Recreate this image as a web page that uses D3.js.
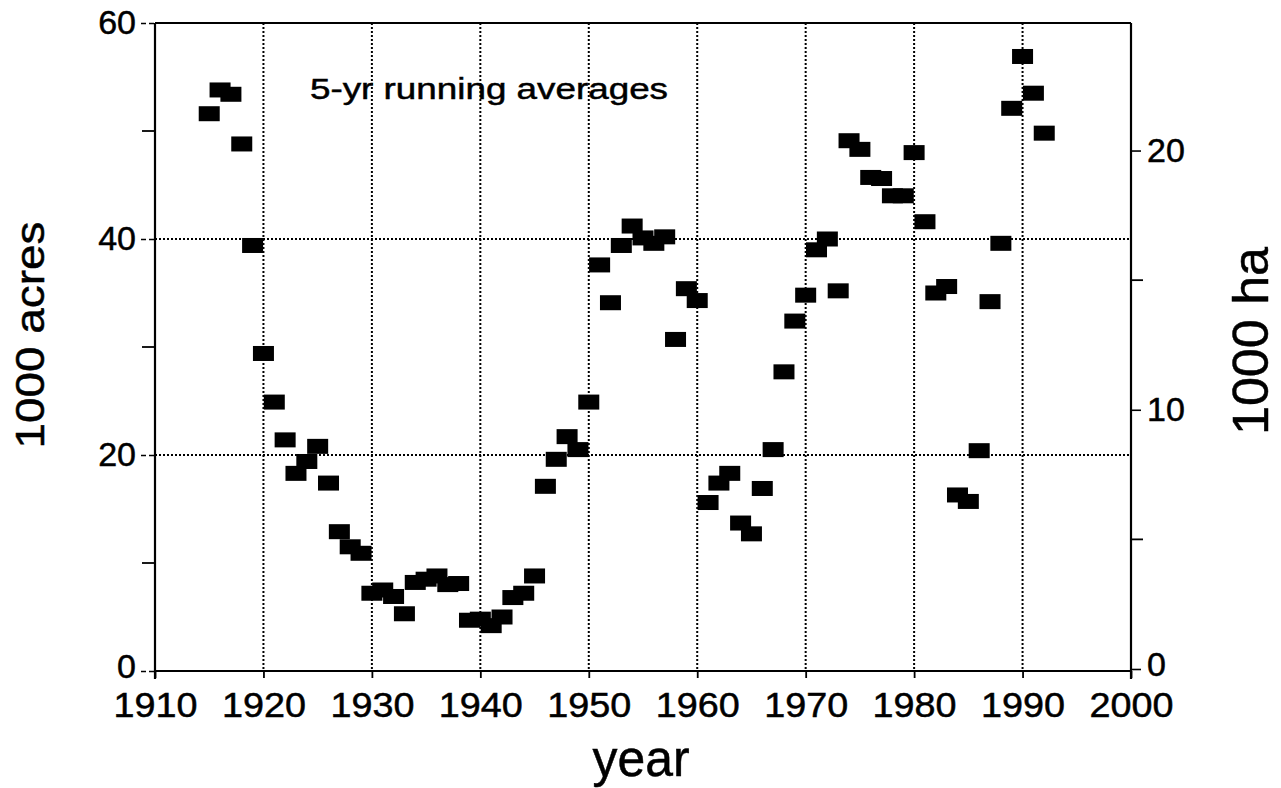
<!DOCTYPE html>
<html><head><meta charset="utf-8">
<script src="https://cdn.jsdelivr.net/npm/d3@7"></script>
<style>
html,body{margin:0;padding:0;background:#fff;}
svg{display:block;font-family:"Liberation Sans",Arial,Helvetica,sans-serif;}
svg text{stroke:#000;stroke-width:0.5px;}
</style></head>
<body>
<svg id="chart" width="1281" height="788"></svg>
<script>
// ---- data ----
const years = [1915,1916,1917,1918,1919,1920,1921,1922,1923,1924,1925,1926,1927,1928,1929,
  1930,1931,1932,1933,1934,1935,1936,1937,1938,1939,1940,1941,1942,1943,1944,1945,1946,1947,1948,1949,
  1950,1951,1952,1953,1954,1955,1956,1957,1958,1959,1960,1961,1962,1963,1964,1965,1966,1967,1968,1969,
  1970,1971,1972,1973,1974,1975,1976,1977,1978,1979,1980,1981,1982,1983,1984,1985,1986,1987,1988,1989,
  1990,1991,1992];
const acres = [51.6,53.8,53.4,48.8,39.4,29.4,24.9,21.4,18.3,19.4,20.8,17.4,12.9,11.5,10.9,
  7.2,7.5,6.9,5.3,8.2,8.5,8.8,8.0,8.1,4.7,4.8,4.2,5.0,6.8,7.2,8.8,17.1,19.6,21.7,20.5,
  24.9,37.6,34.1,39.4,41.2,40.1,39.6,40.2,30.7,35.4,34.3,15.6,17.4,18.3,13.7,12.7,16.9,20.5,27.7,32.4,
  34.8,39.0,40.0,35.2,49.1,48.3,45.7,45.6,44.0,44.0,48.0,41.6,35.0,35.6,16.3,15.7,20.4,34.2,39.6,52.1,
  56.9,53.5,49.8];
const xTicks = [1910,1920,1930,1940,1950,1960,1970,1980,1990,2000];
const yMajorTicks = [0,20,40,60];
const yMinorTicks = [10,30,50];
const haMajorTicks = [0,10,20];
const haMinorTicks = [5,15];
const xTitle = "year";
const yTitle = "1000 acres";
const y2Title = "1000 ha";
const note = "5-yr running averages";

// ---- layout ----
const L = 155, R = 1131, T = 23, B = 671;
const svg = d3.select("#chart");
const x = d3.scaleLinear().domain([1910,2000]).range([L,R]);
const y = d3.scaleLinear().domain([0,60]).range([B,T]);
const y2 = d3.scaleLinear().domain([0,24.92]).range([B-2,T]);

const g = svg.append("g");

// gridlines
g.selectAll("line.vg").data(xTicks.filter(d=>d>1910 && d<2000)).join("line")
  .attr("x1",d=>x(d)).attr("x2",d=>x(d)).attr("y1",T).attr("y2",B)
  .attr("stroke","#000").attr("stroke-width",2).attr("stroke-dasharray","2,2");
g.selectAll("line.hg").data([20,40]).join("line")
  .attr("x1",L).attr("x2",R).attr("y1",d=>y(d)).attr("y2",d=>y(d))
  .attr("stroke","#000").attr("stroke-width",2).attr("stroke-dasharray","2,2");

// frame top/bottom
g.append("line").attr("x1",L).attr("x2",R).attr("y1",T).attr("y2",T).attr("stroke","#000").attr("stroke-width",2);
g.append("line").attr("x1",L).attr("x2",R).attr("y1",B).attr("y2",B).attr("stroke","#000").attr("stroke-width",2);

// left axis
const yAx = d3.axisLeft(y).tickValues(yMajorTicks).tickSize(0).tickPadding(19).tickFormat(d3.format("d"));
const gy = svg.append("g").attr("transform",`translate(${L},0)`).call(yAx);
gy.select(".domain").attr("stroke","#000").attr("stroke-width",2.2).attr("d",`M0,${T}V${B+8}`);
gy.selectAll("text").attr("font-size",34).attr("fill","#000").attr("font-family","Liberation Sans, Arial, sans-serif");
gy.selectAll(".tick").append("line").attr("x1",-14).attr("x2",0).attr("stroke","#000").attr("stroke-width",1.6).attr("stroke-dasharray","5,3");
gy.selectAll(".tick").filter(d=>d===0).select("text").attr("dy","0.18em");
svg.append("g").selectAll("line").data(yMinorTicks).join("line")
  .attr("x1",L-13).attr("x2",L).attr("y1",d=>y(d)).attr("y2",d=>y(d)).attr("stroke","#000").attr("stroke-width",1.8);

// bottom axis
const xAx = d3.axisBottom(x).tickValues(xTicks).tickSize(7).tickPadding(14).tickFormat(d3.format("d"));
const gx = svg.append("g").attr("transform",`translate(0,${B})`).call(xAx);
gx.select(".domain").remove();
gx.selectAll("line").attr("stroke","#000").attr("stroke-width",1.8);
gx.selectAll("text").attr("font-size",35).attr("fill","#000").attr("textLength",84).attr("lengthAdjust","spacingAndGlyphs")
  .attr("font-family","Liberation Sans, Arial, sans-serif");

// right axis
const y2Ax = d3.axisRight(y2).tickValues(haMajorTicks).tickSize(10).tickPadding(6).tickFormat(d3.format("d"));
const gy2 = svg.append("g").attr("transform",`translate(${R},0)`).call(y2Ax);
gy2.select(".domain").attr("stroke","#000").attr("stroke-width",2.2).attr("d",`M0,${T}V${B+8}`);
gy2.selectAll("line").attr("stroke","#000").attr("stroke-width",1.6);
gy2.selectAll("text").attr("font-size",34).attr("fill","#000").attr("font-family","Liberation Sans, Arial, sans-serif");
gy2.selectAll(".tick").filter(d=>d===0).select("text").attr("dy","0.2em");
svg.append("g").selectAll("line").data(haMinorTicks).join("line")
  .attr("x1",R).attr("x2",R+12).attr("y1",d=>y2(d)).attr("y2",d=>y2(d)).attr("stroke","#000").attr("stroke-width",1.8);

// points
const pts = years.map((yr,i)=>({yr, v:acres[i]}));
svg.append("g").selectAll("rect").data(pts).join("rect")
  .attr("x",d=>x(d.yr)-10.5).attr("y",d=>y(d.v)-7.5).attr("width",21).attr("height",15).attr("fill","#000");

// texts
svg.append("text").attr("x",310).attr("y",99).attr("font-size",30).attr("textLength",358).attr("lengthAdjust","spacingAndGlyphs").attr("fill","#000").text(note);
svg.append("text").attr("x",641).attr("y",776).attr("text-anchor","middle").attr("font-size",52)
  .attr("textLength",97).attr("lengthAdjust","spacingAndGlyphs").attr("fill","#000").text(xTitle);
svg.append("text").attr("transform","translate(44,335) rotate(-90)").attr("text-anchor","middle").attr("font-size",40)
  .attr("textLength",227).attr("lengthAdjust","spacingAndGlyphs").attr("fill","#000").text(yTitle);
svg.append("text").attr("transform","translate(1268,341) rotate(-90)").attr("text-anchor","middle").attr("font-size",50)
  .attr("textLength",188).attr("lengthAdjust","spacingAndGlyphs").attr("fill","#000").text(y2Title);
</script>
</body></html>
